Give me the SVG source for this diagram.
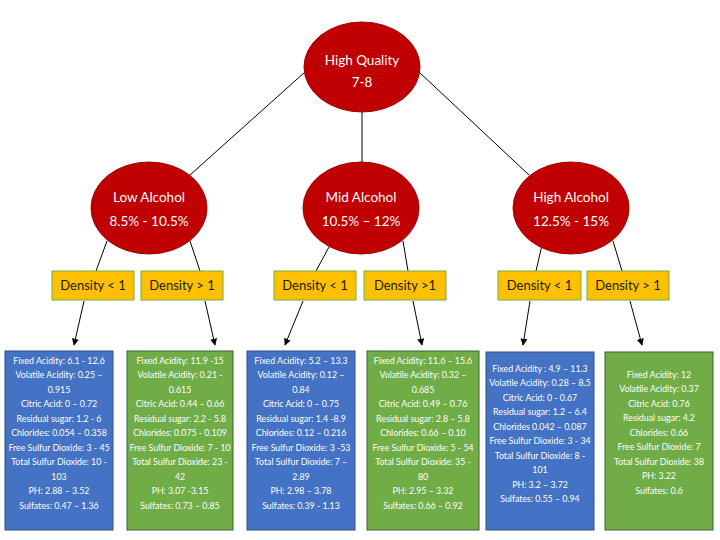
<svg xmlns="http://www.w3.org/2000/svg" width="720" height="540" viewBox="0 0 720 540">
<style>
.ell{fill:#C00000;stroke:#A50000;stroke-width:1}
.et{font-family:Lato,"Noto Sans",sans-serif;font-size:13.5px;fill:#ffffff;text-anchor:middle}
.den{fill:#FFC000;stroke:#70AD47;stroke-width:1}
.dt{font-family:Lato,"Noto Sans",sans-serif;font-size:13px;fill:#1a1a1a;text-anchor:middle}
.blue{fill:#4472C4;stroke:#2F4F7F;stroke-width:1}
.green{fill:#70AD47;stroke:#3F5F3F;stroke-width:1}
.lt{font-family:Lato,"Noto Sans",sans-serif;font-size:8.8px;fill:#ffffff;text-anchor:middle}
.ln{stroke:#000;stroke-width:1;fill:none}
</style>
<defs>
<marker id="ah" viewBox="0 0 10 10" refX="9" refY="5" markerWidth="7" markerHeight="7" markerUnits="userSpaceOnUse" orient="auto">
<path d="M0,0 L10,5 L0,10 z" fill="#000"/>
</marker>
</defs>
<g id="connectors">
<line class="ln" x1="305" y1="72" x2="190" y2="175"/>
<line class="ln" x1="362" y1="112" x2="362" y2="162"/>
<line class="ln" x1="419" y1="72" x2="529" y2="175"/>
<line class="ln" x1="107" y1="241" x2="96" y2="271"/>
<line class="ln" x1="190" y1="241" x2="200" y2="271"/>
<line class="ln" x1="329" y1="247" x2="316" y2="271"/>
<line class="ln" x1="403" y1="241" x2="408" y2="271"/>
<line class="ln" x1="542" y1="245" x2="536" y2="271"/>
<line class="ln" x1="613" y1="241" x2="622" y2="271"/>
<line class="ln" x1="84" y1="301" x2="74" y2="345" marker-end="url(#ah)"/>
<line class="ln" x1="205" y1="301" x2="215" y2="345" marker-end="url(#ah)"/>
<line class="ln" x1="303" y1="301" x2="285" y2="345" marker-end="url(#ah)"/>
<line class="ln" x1="413" y1="301" x2="422" y2="345" marker-end="url(#ah)"/>
<line class="ln" x1="530" y1="301" x2="523" y2="345" marker-end="url(#ah)"/>
<line class="ln" x1="630" y1="301" x2="642" y2="345" marker-end="url(#ah)"/>
</g>
<g id="root">
<ellipse class="ell" cx="362" cy="67" rx="58" ry="45"/>
<text class="et" x="362" y="65">High Quality</text>
<text class="et" x="362" y="87">7-8</text>
</g>
<g id="low">
<ellipse class="ell" cx="149" cy="208" rx="58" ry="46"/>
<text class="et" x="149" y="202">Low Alcohol</text>
<text class="et" x="149" y="226">8.5% - 10.5%</text>
</g>
<g id="mid">
<ellipse class="ell" cx="361" cy="208" rx="58" ry="46"/>
<text class="et" x="361" y="202">Mid Alcohol</text>
<text class="et" x="361" y="226">10.5% – 12%</text>
</g>
<g id="high">
<ellipse class="ell" cx="571" cy="208" rx="58" ry="46"/>
<text class="et" x="571" y="202">High Alcohol</text>
<text class="et" x="571" y="226">12.5% - 15%</text>
</g>
<g id="d1"><rect class="den" x="52" y="271" width="82" height="29"/><text class="dt" x="93" y="290">Density &lt; 1</text></g>
<g id="d2"><rect class="den" x="141" y="271" width="82" height="29"/><text class="dt" x="182" y="290">Density &gt; 1</text></g>
<g id="d3"><rect class="den" x="274" y="271" width="82" height="29"/><text class="dt" x="315" y="290">Density &lt; 1</text></g>
<g id="d4"><rect class="den" x="364" y="271" width="82" height="29"/><text class="dt" x="405" y="290">Density &gt;1</text></g>
<g id="d5"><rect class="den" x="498" y="271" width="83" height="29"/><text class="dt" x="539.5" y="290">Density &lt; 1</text></g>
<g id="d6"><rect class="den" x="587" y="271" width="82" height="29"/><text class="dt" x="628" y="290">Density &gt; 1</text></g>
<g id="leaf1">
<rect class="blue" x="5" y="351" width="108" height="179"/>
<text class="lt" x="59" y="363.5">Fixed Acidity: 6.1 - 12.6</text>
<text class="lt" x="59" y="378">Volatile Acidity: 0.25 –</text>
<text class="lt" x="59" y="392.5">0.915</text>
<text class="lt" x="59" y="407">Citric Acid: 0 – 0.72</text>
<text class="lt" x="59" y="421.5">Residual sugar: 1.2 - 6</text>
<text class="lt" x="59" y="436">Chlorides: 0.054 – 0.358</text>
<text class="lt" x="59" y="450.5">Free Sulfur Dioxide: 3 - 45</text>
<text class="lt" x="59" y="465">Total Sulfur Dioxide: 10 -</text>
<text class="lt" x="59" y="479.5">103</text>
<text class="lt" x="59" y="494">PH: 2.88 – 3.52</text>
<text class="lt" x="59" y="508.5">Sulfates: 0.47 – 1.36</text>
</g>
<g id="leaf2">
<rect class="green" x="127" y="351" width="106" height="179"/>
<text class="lt" x="180" y="363.5">Fixed Acidity: 11.9 -15</text>
<text class="lt" x="180" y="378">Volatile Acidity: 0.21 -</text>
<text class="lt" x="180" y="392.5">0.615</text>
<text class="lt" x="180" y="407">Citric Acid: 0.44 – 0.66</text>
<text class="lt" x="180" y="421.5">Residual sugar: 2.2 - 5.8</text>
<text class="lt" x="180" y="436">Chlorides: 0.075 - 0.109</text>
<text class="lt" x="180" y="450.5">Free Sulfur Dioxide: 7 - 10</text>
<text class="lt" x="180" y="465">Total Sulfur Dioxide: 23 -</text>
<text class="lt" x="180" y="479.5">42</text>
<text class="lt" x="180" y="494">PH: 3.07 -3.15</text>
<text class="lt" x="180" y="508.5">Sulfates: 0.73 – 0.85</text>
</g>
<g id="leaf3">
<rect class="blue" x="247" y="351" width="108" height="179"/>
<text class="lt" x="301" y="363.5">Fixed Acidity: 5.2 – 13.3</text>
<text class="lt" x="301" y="378">Volatile Acidity: 0.12 –</text>
<text class="lt" x="301" y="392.5">0.84</text>
<text class="lt" x="301" y="407">Citric Acid: 0 – 0.75</text>
<text class="lt" x="301" y="421.5">Residual sugar: 1.4 -8.9</text>
<text class="lt" x="301" y="436">Chlorides: 0.12 – 0.216</text>
<text class="lt" x="301" y="450.5">Free Sulfur Dioxide: 3 -53</text>
<text class="lt" x="301" y="465">Total Sulfur Dioxide: 7 –</text>
<text class="lt" x="301" y="479.5">2.89</text>
<text class="lt" x="301" y="494">PH: 2.98 – 3.78</text>
<text class="lt" x="301" y="508.5">Sulfates: 0.39 - 1.13</text>
</g>
<g id="leaf4">
<rect class="green" x="367" y="351" width="112" height="179"/>
<text class="lt" x="423" y="363.5">Fixed Acidity: 11.6 – 15.6</text>
<text class="lt" x="423" y="378">Volatile Acidity: 0.32 –</text>
<text class="lt" x="423" y="392.5">0.685</text>
<text class="lt" x="423" y="407">Citric Acid: 0.49 – 0.76</text>
<text class="lt" x="423" y="421.5">Residual sugar: 2.8 – 5.8</text>
<text class="lt" x="423" y="436">Chlorides: 0.66 – 0.10</text>
<text class="lt" x="423" y="450.5">Free Sulfur Dioxide: 5 - 54</text>
<text class="lt" x="423" y="465">Total Sulfur Dioxide: 35 -</text>
<text class="lt" x="423" y="479.5">80</text>
<text class="lt" x="423" y="494">PH: 2.95 – 3.32</text>
<text class="lt" x="423" y="508.5">Sulfates: 0.66 – 0.92</text>
</g>
<g id="leaf5">
<rect class="blue" x="486" y="352" width="108" height="178"/>
<text class="lt" x="540" y="371.5">Fixed Acidity : 4.9 – 11.3</text>
<text class="lt" x="540" y="386">Volatile Acidity: 0.28 – 8.5</text>
<text class="lt" x="540" y="400.5">Citric Acid: 0 - 0.67</text>
<text class="lt" x="540" y="415">Residual sugar: 1.2 – 6.4</text>
<text class="lt" x="540" y="429.5">Chlorides 0.042 – 0.087</text>
<text class="lt" x="540" y="444">Free Sulfur Dioxide: 3 - 34</text>
<text class="lt" x="540" y="458.5">Total Sulfur Dioxide: 8 -</text>
<text class="lt" x="540" y="473">101</text>
<text class="lt" x="540" y="487.5">PH: 3.2 – 3.72</text>
<text class="lt" x="540" y="502">Sulfates: 0.55 – 0.94</text>
</g>
<g id="leaf6">
<rect class="green" x="605" y="352" width="108" height="178"/>
<text class="lt" x="659" y="377.5">Fixed Acidity: 12</text>
<text class="lt" x="659" y="392">Volatile Acidity: 0.37</text>
<text class="lt" x="659" y="406.5">Citric Acid: 0.76</text>
<text class="lt" x="659" y="421">Residual sugar: 4.2</text>
<text class="lt" x="659" y="435.5">Chlorides: 0.66</text>
<text class="lt" x="659" y="450">Free Sulfur Dioxide: 7</text>
<text class="lt" x="659" y="464.5">Total Sulfur Dioxide: 38</text>
<text class="lt" x="659" y="479">PH: 3.22</text>
<text class="lt" x="659" y="493.5">Sulfates: 0.6</text>
</g>
</svg>
